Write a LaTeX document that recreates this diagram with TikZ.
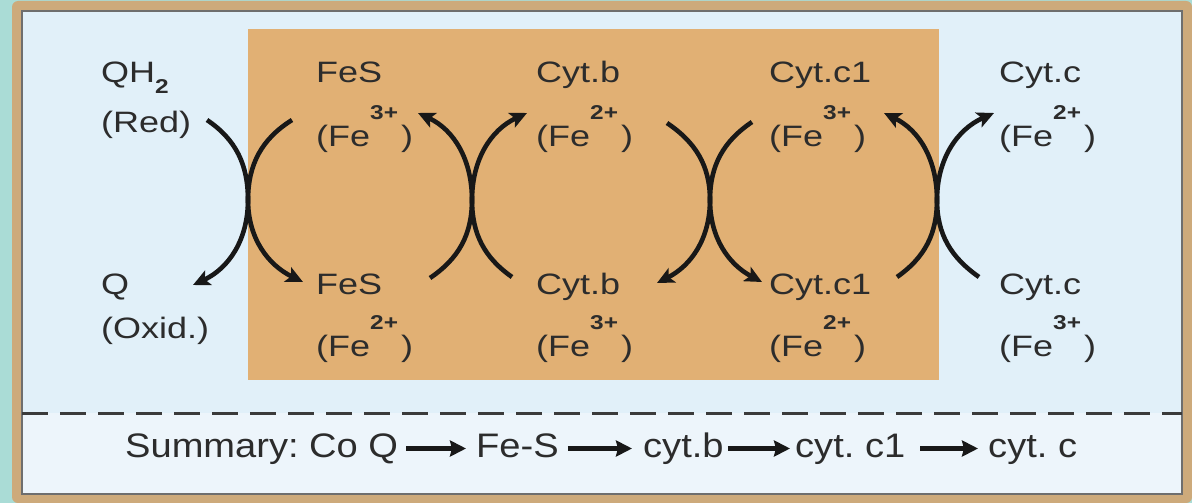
\documentclass[tikz,border=0pt]{standalone}
\usepackage{fontspec}
\setmainfont{Liberation Sans}
\newfontfamily\labfont[FakeStretch=1.22]{Liberation Sans}
\newfontfamily\sumfont[FakeStretch=1.12]{Liberation Sans}
\usetikzlibrary{arrows.meta}
\frenchspacing
\definecolor{teal0}{HTML}{AADCD6}
\definecolor{tanb}{HTML}{CDAA7B}
\definecolor{skyin}{HTML}{E1F0F9}
\definecolor{skylo}{HTML}{EDF5FB}
\definecolor{orng}{HTML}{E1B074}
\definecolor{txt}{HTML}{2C2C2C}
\definecolor{ink}{HTML}{181818}
\definecolor{rim}{HTML}{6E6E6E}
\newcommand\supchg[1]{\raisebox{27pt}{\fontsize{20}{20}\selectfont\bfseries #1}}
\newcommand\subchg[1]{\raisebox{-10pt}{\fontsize{20}{20}\selectfont\bfseries #1}}
\begin{document}
\begin{tikzpicture}[x=1pt,y=1pt,
  lab/.style={anchor=base west,inner sep=0pt,text=txt,font=\labfont\fontsize{29.5}{34}\selectfont},
  sumtxt/.style={anchor=base west,inner sep=0pt,text=txt,font=\sumfont\fontsize{34}{40}\selectfont\frenchspacing,text height=24pt,text depth=7pt},
  flow/.style={line width=4.6pt,draw=ink,-{Stealth[length=17pt,width=16pt,inset=4pt]}},
  sumarr/.style={line width=5pt,draw=ink,-{Stealth[length=16pt,width=16pt,inset=2pt]}},
  divider/.style={draw=ink!85,line width=3pt,dash pattern=on 26pt off 12pt}]
\useasboundingbox (0,0) rectangle (1192,-503);
% background frame
\fill[teal0] (0,0) rectangle (1192,-503);
\fill[tanb,rounded corners=6pt] (12,-1) rectangle (1192,-503);
\fill[skyin] (22,-11) rectangle (1182,-413);
\fill[skylo] (22,-413) rectangle (1182,-494);
\draw[rim,line width=1.6pt] (22,-11) rectangle (1182,-494);
\fill[orng] (248,-29) rectangle (939,-380);
\draw[divider] (22,-413) -- (1182,-413);

% labels
\node[lab] (qh)   at (101,-83)  {QH\subchg{2}};
\node[lab] (red)  at (101,-132) {(Red)};
\node[lab] (q)    at (101,-294) {Q};
\node[lab] (ox)   at (101,-338) {(Oxid.)};

\node[lab] (fesA)  at (316,-83)  {FeS};
\node[lab] (fesAi) at (316,-146) {(Fe\supchg{3+}\kern3pt)};
\node[lab] (fesB)  at (316,-294) {FeS};
\node[lab] (fesBi) at (316,-356) {(Fe\supchg{2+}\kern3pt)};

\node[lab] (cbA)  at (536,-83)  {Cyt.b};
\node[lab] (cbAi) at (536,-146) {(Fe\supchg{2+}\kern3pt)};
\node[lab] (cbB)  at (536,-294) {Cyt.b};
\node[lab] (cbBi) at (536,-356) {(Fe\supchg{3+}\kern3pt)};

\node[lab] (ccA)  at (769,-83)  {Cyt.c1};
\node[lab] (ccAi) at (769,-146) {(Fe\supchg{3+}\kern3pt)};
\node[lab] (ccB)  at (769,-294) {Cyt.c1};
\node[lab] (ccBi) at (769,-356) {(Fe\supchg{2+}\kern3pt)};

\node[lab] (cA)  at (999,-83)  {Cyt.c};
\node[lab] (cAi) at (999,-146) {(Fe\supchg{2+}\kern3pt)};
\node[lab] (cB)  at (999,-294) {Cyt.c};
\node[lab] (cBi) at (999,-356) {(Fe\supchg{3+}\kern3pt)};

% crossing points and arc ends
\coordinate (x1) at (248,-200);
\coordinate (x2) at (472,-200);
\coordinate (x3) at (710,-200);
\coordinate (x4) at (937,-200);

\coordinate (p1s) at (207,-120); \coordinate (p1e) at (193,-285);
\coordinate (q1s) at (292,-120); \coordinate (q1e) at (303,-282);
\coordinate (p2s) at (430,-278); \coordinate (p2e) at (418,-113);
\coordinate (q2s) at (512,-277); \coordinate (q2e) at (527,-113);
\coordinate (p3s) at (667,-123); \coordinate (p3e) at (657,-283);
\coordinate (q3s) at (752,-122); \coordinate (q3e) at (762,-282);
\coordinate (p4s) at (897,-277); \coordinate (p4e) at (884,-113);
\coordinate (q4s) at (979,-277); \coordinate (q4e) at (994,-113);

% pair 1
\draw[flow] (p1s) to[out=-34,in=90] (x1) to[out=-90,in=25] (p1e);
\draw[flow] (q1s) to[out=212,in=90] (x1) to[out=-90,in=154] (q1e);
% pair 2
\draw[flow] (p2s) to[out=34,in=-90] (x2) to[out=90,in=-25] (p2e);
\draw[flow] (q2s) to[out=145,in=-90] (x2) to[out=90,in=-155] (q2e);
% pair 3
\draw[flow] (p3s) to[out=-34,in=90] (x3) to[out=-90,in=27] (p3e);
\draw[flow] (q3s) to[out=214,in=90] (x3) to[out=-90,in=152] (q3e);
% pair 4
\draw[flow] (p4s) to[out=35,in=-90] (x4) to[out=90,in=-26] (p4e);
\draw[flow] (q4s) to[out=145,in=-90] (x4) to[out=90,in=-156] (q4e);

% summary
\node[sumtxt] (s0) at (125,-457) {Summary: Co Q};
\node[sumtxt] (s1) at (476,-457) {Fe-S};
\node[sumtxt] (s2) at (643,-457) {cyt.b};
\node[sumtxt] (s3) at (795,-457) {cyt. c1};
\node[sumtxt] (s4) at (988,-457) {cyt. c};
\draw[sumarr] ([xshift=8pt]s0.east) -- ([xshift=-10pt]s1.west);
\draw[sumarr] ([xshift=9pt]s1.east) -- ([xshift=-11pt]s2.west);
\draw[sumarr] ([xshift=4pt]s2.east) -- ([xshift=-5pt]s3.west);
\draw[sumarr] ([xshift=15pt]s3.east) -- ([xshift=-10pt]s4.west);
\end{tikzpicture}
\end{document}
